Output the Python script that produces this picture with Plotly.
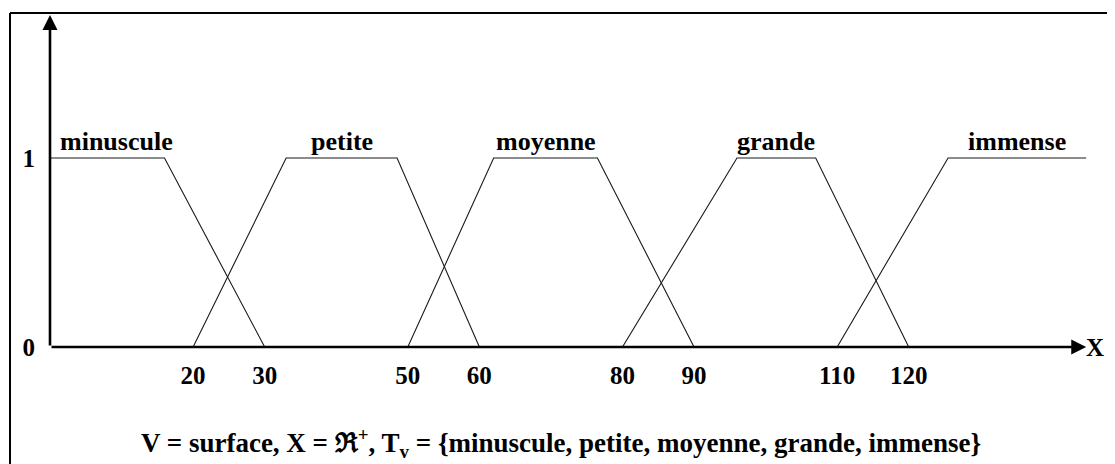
import plotly.graph_objects as go

# ---- data ----
terms = ["minuscule", "petite", "moyenne", "grande", "immense"]
minuscule_x = [0, 16, 30]
minuscule_mu = [1, 1, 0]
petite_x = [20, 33, 48.5, 60]
petite_mu = [0, 1, 1, 0]
moyenne_x = [50, 62, 76.5, 90]
moyenne_mu = [0, 1, 1, 0]
grande_x = [80, 96, 107, 120]
grande_mu = [0, 1, 1, 0]
immense_x = [110, 125.5, 144.8]
immense_mu = [0, 1, 1]
x_ticks = [20, 30, 50, 60, 80, 90, 110, 120]
y_ticks = [0, 1]
caption = "V = surface, X = ℜ<sup>+</sup>, T<sub>v</sub> = {minuscule, petite, moyenne, grande, immense}"

series = [
    (minuscule_x, minuscule_mu),
    (petite_x, petite_mu),
    (moyenne_x, moyenne_mu),
    (grande_x, grande_mu),
    (immense_x, immense_mu),
]

# ---- layout geometry (page has an 8px body margin) ----
W, H = 1099, 456
ML = 42
PLOT_H = 339
MB = H - PLOT_H
PX_PER_UNIT = 7.156
PLOT_W = W - ML
X_MAX = PLOT_W / PX_PER_UNIT
Y_MAX = PLOT_H / 189.0

FONT = "Liberation Serif"

fig = go.Figure()
for xs, mus in series:
    fig.add_trace(go.Scatter(x=xs, y=mus, mode="lines",
                             line=dict(color="#1a1a1a", width=1.1),
                             showlegend=False, hoverinfo="skip"))

# term labels above plateaus
for name, (xs, mus) in zip(terms, series):
    top = [x for x, m in zip(xs, mus) if m == 1]
    mid = (top[0] + top[-1]) / 2
    fig.add_annotation(x=mid, y=1.085, text=name, showarrow=False,
                       xshift=9 if top[0] == 0 else 0,
                       font=dict(family=FONT, size=26, color="black", weight="bold"),
                       xanchor="center", yanchor="middle")

# axes with arrows
fig.add_annotation(x=0, y=(PLOT_H - 7) / 189.0, ax=0, ay=0, axref="x", ayref="y",
                   xref="x", yref="y", text="", showarrow=True,
                   arrowhead=2, arrowsize=1.15, arrowwidth=2.6, arrowcolor="black", standoff=0)
fig.add_annotation(x=immense_x[-1], y=0, ax=0, ay=0, axref="x", ayref="y",
                   xref="x", yref="y", text="", showarrow=True,
                   arrowhead=2, arrowsize=1.15, arrowwidth=2.6, arrowcolor="black", standoff=0)
fig.add_annotation(x=1.0, y=0, xref="paper", yref="y", text="X", showarrow=False,
                   xanchor="right", yanchor="middle", xshift=-1,
                   font=dict(family=FONT, size=25, color="black", weight="bold"))

# caption
fig.add_annotation(x=(553 - ML) / PLOT_W, y=(PLOT_H - 435) / PLOT_H, xref="paper", yref="paper",
                   text=caption, showarrow=False, xanchor="center", yanchor="middle",
                   font=dict(family=FONT, size=27, color="black", weight="bold"))

# frame (top and left edges)
fx = (2 - ML) / PLOT_W
fy_top = (PLOT_H - 5) / PLOT_H
fy_bot = (PLOT_H - H) / PLOT_H
fig.add_shape(type="line", xref="paper", yref="paper", x0=fx, y0=fy_top, x1=1.01, y1=fy_top,
              line=dict(color="black", width=2))
fig.add_shape(type="line", xref="paper", yref="paper", x0=fx, y0=fy_top, x1=fx, y1=fy_bot,
              line=dict(color="black", width=2))

fig.update_layout(
    width=W, height=H, autosize=False,
    margin=dict(l=ML, r=0, t=0, b=MB, pad=0),
    paper_bgcolor="white", plot_bgcolor="white",
    xaxis=dict(range=[0, X_MAX], showgrid=False, zeroline=False, showline=False,
               tickmode="array", tickvals=x_ticks, ticktext=[str(v) for v in x_ticks],
               ticks="", ticklabelstandoff=11,
               tickfont=dict(family=FONT, size=25, color="black", weight="bold")),
    yaxis=dict(range=[0, Y_MAX], showgrid=False, zeroline=False, showline=False,
               tickmode="array", tickvals=y_ticks, ticktext=[str(v) for v in y_ticks],
               ticks="", ticklabelstandoff=14,
               tickfont=dict(family=FONT, size=25, color="black", weight="bold")),
)

fig.write_html("out.html")
